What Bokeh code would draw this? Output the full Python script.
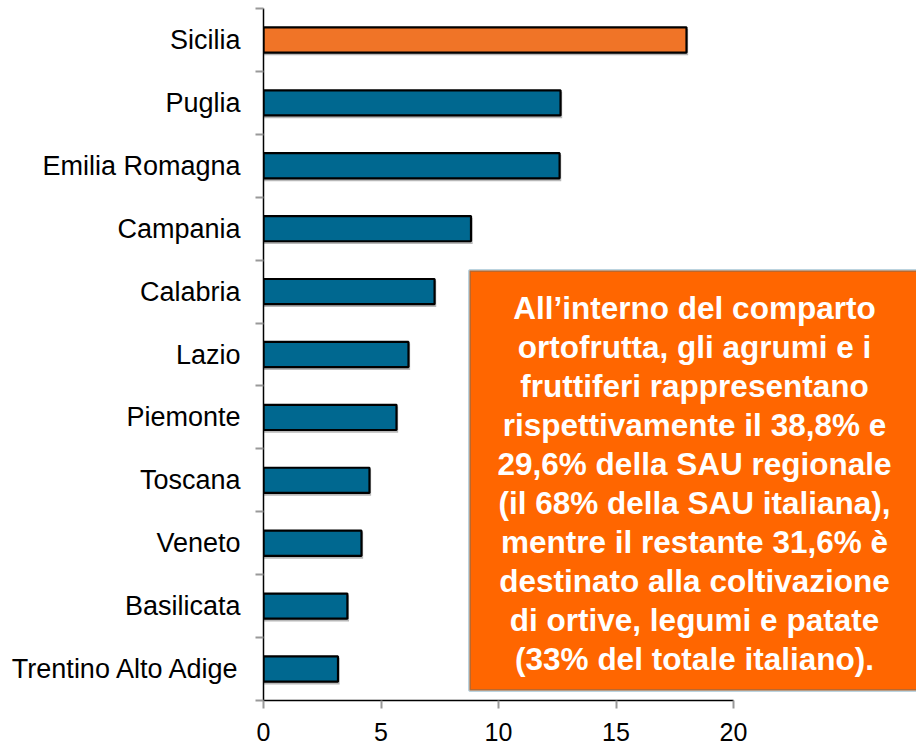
from bokeh.plotting import figure
from bokeh.models import Range1d, FixedTicker, Label, BoxAnnotation
from bokeh.embed import file_html
from bokeh.resources import INLINE

# ---- data ----
regions = ["Sicilia", "Puglia", "Emilia Romagna", "Campania", "Calabria", "Lazio",
           "Piemonte", "Toscana", "Veneto", "Basilicata", "Trentino Alto Adige"]
values = [18.0, 12.64, 12.6, 8.83, 7.28, 6.17, 5.66, 4.51, 4.17, 3.57, 3.17]
colors = ["#F07427"] + ["#006890"] * 10
x_ticks = [0, 5, 10, 15, 20]
note_lines = [
    "All\u2019interno del comparto",
    "ortofrutta, gli agrumi e i",
    "fruttiferi rappresentano",
    "rispettivamente il 38,8% e",
    "29,6% della SAU regionale",
    "(il 68% della SAU italiana),",
    "mentre il restante 31,6% \u00e8",
    "destinato alla coltivazione",
    "di ortive, legumi e patate",
    "(33% del totale italiano).",
]

n = len(regions)
ypos = [n - 1 - i for i in range(n)]  # Sicilia at top

# ---- layout constants (canvas pixels) ----
W, H = 916, 744
frame_left, frame_right = 263, 916
frame_top, frame_bottom = 8, 700
px_per_unit = (733 - 263) / 20.0
x_end = (frame_right - frame_left) / px_per_unit
y_lo, y_hi = -0.5, n - 0.5
band = (frame_bottom - frame_top) / n

def dx(px):
    return (px - frame_left) / px_per_unit

def dy(py):
    return y_hi - (py - frame_top) / band

p = figure(width=W, height=H, output_backend="svg", toolbar_location=None,
           x_range=Range1d(0, x_end), y_range=Range1d(y_lo, y_hi),
           min_border_left=frame_left, min_border_right=0,
           min_border_top=frame_top, min_border_bottom=H - frame_bottom)
p.outline_line_color = None
p.grid.visible = False
p.background_fill_color = "white"
p.border_fill_color = "white"

# shadow
p.hbar(y=[y - 0.035 for y in ypos], left=0, right=[v + 0.07 for v in values], height=0.42,
       fill_color="#B8B8B8", line_color=None)
p.hbar(y=ypos, left=0, right=values, height=0.4, fill_color=colors,
       line_color="black", line_width=2.2)

# axes
xa = p.xaxis[0]
xa.ticker = FixedTicker(ticks=x_ticks)
xa.bounds = (0, 20)
xa.axis_line_color = "black"
xa.axis_line_width = 1.5
xa.major_tick_line_color = "#999999"
xa.major_tick_line_width = 2
xa.major_tick_in = 0
xa.major_tick_out = 8
xa.minor_tick_line_color = None
xa.minor_tick_out = 0
xa.major_label_text_font = "Liberation Sans"
xa.major_label_text_font_size = "25px"
xa.major_label_text_color = "black"
xa.major_label_standoff = 14

ya = p.yaxis[0]
ya.ticker = FixedTicker(ticks=ypos, minor_ticks=[k - 0.5 for k in range(n + 1)])
ya.major_label_overrides = {y: r for y, r in zip(ypos, regions)}
ya.major_tick_line_color = None
ya.major_tick_out = 0
ya.major_tick_in = 0
ya.minor_tick_line_color = "#999999"
ya.minor_tick_line_width = 2
ya.minor_tick_in = 0
ya.minor_tick_out = 8
ya.axis_line_color = "black"
ya.axis_line_width = 1.5
ya.major_label_text_font = "Liberation Sans"
ya.major_label_text_font_size = "27px"
ya.major_label_text_color = "black"
ya.major_label_standoff = 15

# note box
box = BoxAnnotation(left=dx(469), right=x_end + 1, top=dy(270), bottom=dy(690),
                    fill_color="#FF6600", fill_alpha=1.0,
                    line_color="#1F6E96", line_width=3)
p.add_layout(box)

cx = dx(694)
first, step = 307, 39.0
for i, t in enumerate(note_lines):
    p.add_layout(Label(x=cx, y=dy(first + i * step), text=t, text_align="center",
                       text_baseline="middle", text_color="white",
                       text_font="Liberation Sans", text_font_style="bold",
                       text_font_size="31.5px"))

open("out.html", "w").write(file_html(p, INLINE))
